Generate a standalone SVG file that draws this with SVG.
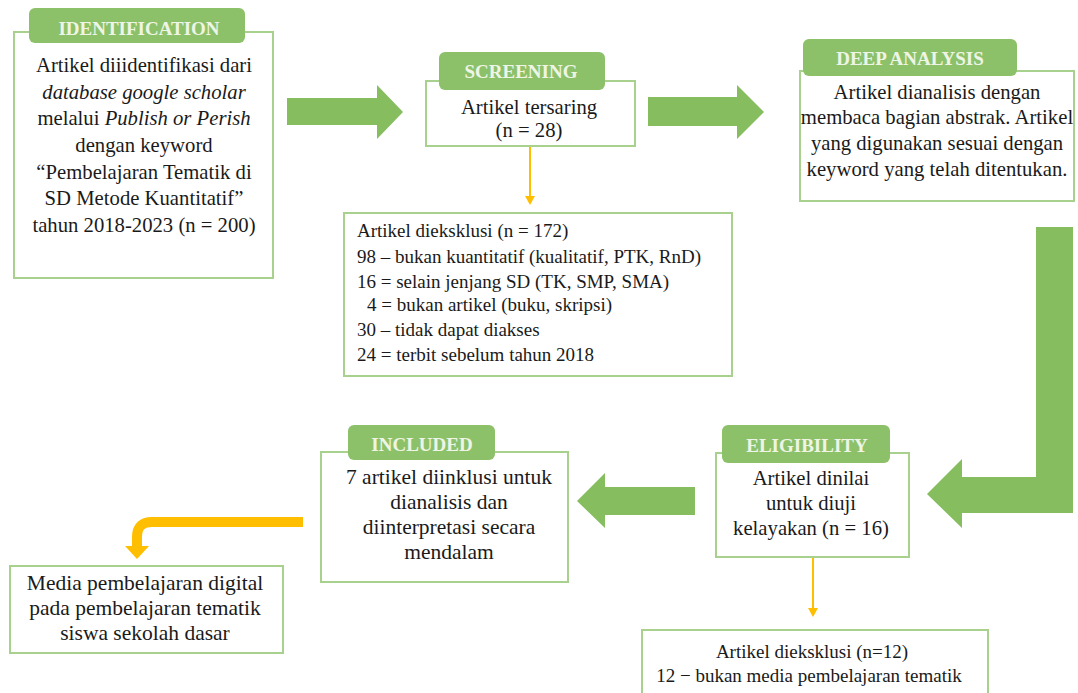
<svg xmlns="http://www.w3.org/2000/svg" width="1078" height="693" viewBox="0 0 1078 693">
<defs>
<style>
.box{fill:#fff;stroke:#a9d18e;stroke-width:2}
.tab{fill:#8dc169}
.tt{font-family:"Liberation Serif","DejaVu Serif",serif;font-weight:bold;font-size:19px;fill:#eef5e6;text-anchor:middle}
.t{font-family:"Liberation Serif","DejaVu Serif",serif;font-size:20.7px;fill:#1a1a1a;text-anchor:middle}
.t19{font-size:19px}
.t21{font-size:21.5px}
.tl{font-family:"Liberation Serif","DejaVu Serif",serif;font-size:19px;fill:#1a1a1a}
.ga{fill:#86bd5f}
.ya{fill:#ffbf00}
</style>
</defs>
<rect width="1078" height="693" fill="#fff"/>
<g id="connectors">
<polygon class="ga" points="287,98 377,98 377,85 403,112 377,139 377,125 287,125"/>
<polygon class="ga" points="648,97 737,97 737,85 764,112 737,139 737,126 648,126"/>
<polygon class="ga" points="1036,227 1073,227 1073,513 962,513 962,528 927,494 962,459 962,477 1036,477"/>
<polygon class="ga" points="695,487 605,487 605,473 577,501 605,528 605,515 695,515"/>
<line x1="530" y1="146" x2="530" y2="196" stroke="#ffbf00" stroke-width="2"/>
<polygon class="ya" points="525,196 535,196 530,205"/>
<line x1="813" y1="557" x2="813" y2="608" stroke="#ffbf00" stroke-width="2"/>
<polygon class="ya" points="808,608 818,608 813,617"/>
<path d="M303,522 H152 Q137,522 137,537 V548" fill="none" stroke="#ffbf00" stroke-width="10"/>
<polygon class="ya" points="125,546 149,546 137,559"/>
</g>
<g id="identification">
<rect class="box" x="14" y="32" width="259" height="246"/>
<rect class="tab" x="29" y="8" width="216" height="35" rx="6"/>
<text class="tt" x="139" y="35">IDENTIFICATION</text>
<text class="t" x="144" y="72">Artikel diiidentifikasi dari</text>
<text class="t" x="144" y="99" font-style="italic">database google scholar</text>
<text class="t" x="144" y="125">melalui <tspan font-style="italic">Publish or Perish</tspan></text>
<text class="t" x="144" y="152">dengan keyword</text>
<text class="t" x="144" y="179">“Pembelajaran Tematik di</text>
<text class="t" x="144" y="205">SD Metode Kuantitatif”</text>
<text class="t" x="144" y="232">tahun 2018-2023 (n = 200)</text>
</g>
<g id="screening">
<rect class="box" x="426" y="81" width="209" height="65"/>
<rect class="tab" x="439" y="52" width="166" height="38" rx="6"/>
<text class="tt" x="521" y="78">SCREENING</text>
<text class="t" x="529" y="114">Artikel tersaring</text>
<text class="t" x="529" y="137">(n = 28)</text>
</g>
<g id="deep-analysis">
<rect class="box" x="800" y="71" width="274" height="130"/>
<rect class="tab" x="803" y="39" width="214" height="37" rx="6"/>
<text class="tt" x="910" y="65">DEEP ANALYSIS</text>
<text class="t" x="937" y="99">Artikel dianalisis dengan</text>
<text class="t" x="937" y="124">membaca bagian abstrak. Artikel</text>
<text class="t" x="937" y="150">yang digunakan sesuai dengan</text>
<text class="t" x="937" y="176">keyword yang telah ditentukan.</text>
</g>
<g id="excluded-1">
<rect class="box" x="344" y="213" width="388" height="163"/>
<text class="tl" x="357" y="237">Artikel dieksklusi (n = 172)</text>
<text class="tl" x="357" y="263">98 – bukan kuantitatif (kualitatif, PTK, RnD)</text>
<text class="tl" x="357" y="288">16 = selain jenjang SD (TK, SMP, SMA)</text>
<text class="tl" x="367" y="311">4 = bukan artikel (buku, skripsi)</text>
<text class="tl" x="357" y="336">30 – tidak dapat diakses</text>
<text class="tl" x="357" y="361">24 = terbit sebelum tahun 2018</text>
</g>
<g id="eligibility">
<rect class="box" x="716" y="453" width="193" height="104"/>
<rect class="tab" x="722" y="425" width="168" height="38" rx="6"/>
<text class="tt" x="807" y="452">ELIGIBILITY</text>
<text class="t" x="811" y="485">Artikel dinilai</text>
<text class="t" x="811" y="510">untuk diuji</text>
<text class="t" x="811" y="535">kelayakan (n = 16)</text>
</g>
<g id="excluded-2">
<rect class="box" x="642" y="630" width="346" height="70"/>
<text class="t t19" x="812" y="658">Artikel dieksklusi (n=12)</text>
<text class="t t19" x="809" y="682">12 − bukan media pembelajaran tematik</text>
</g>
<g id="included">
<rect class="box" x="321" y="452" width="247" height="130"/>
<rect class="tab" x="348" y="425" width="147" height="35" rx="6"/>
<text class="tt" x="422" y="451">INCLUDED</text>
<text class="t t21" x="449" y="484">7 artikel diinklusi untuk</text>
<text class="t t21" x="449" y="509">dianalisis dan</text>
<text class="t t21" x="449" y="534">diinterpretasi secara</text>
<text class="t t21" x="449" y="559">mendalam</text>
</g>
<g id="media">
<rect class="box" x="10" y="566" width="273" height="87" stroke-width="1.5"/>
<text class="t t21" x="145" y="590">Media pembelajaran digital</text>
<text class="t t21" x="145" y="615">pada pembelajaran tematik</text>
<text class="t t21" x="145" y="640">siswa sekolah dasar</text>
</g>
</svg>
